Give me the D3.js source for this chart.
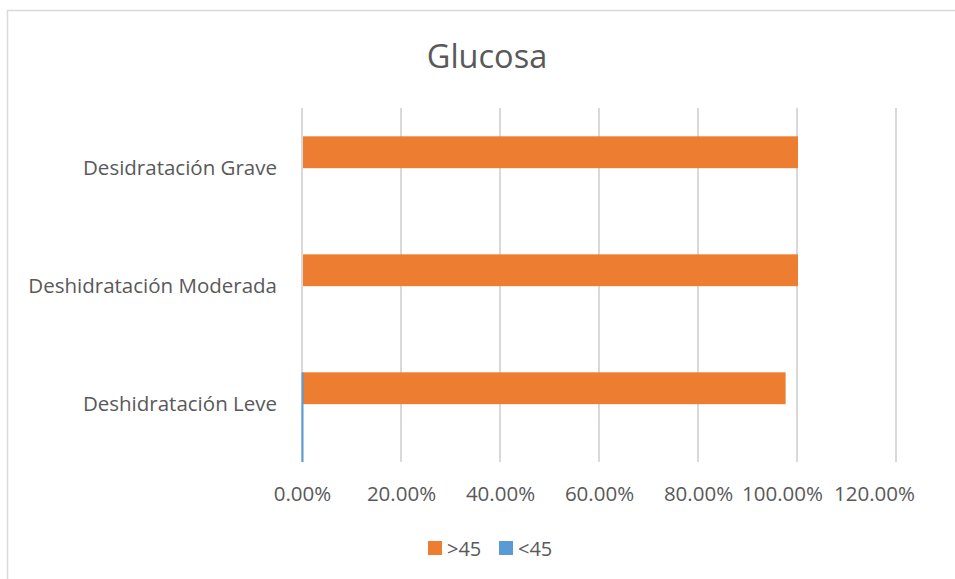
<!DOCTYPE html>
<html>
<head>
<meta charset="utf-8">
<script src="https://cdn.jsdelivr.net/npm/d3@7"></script>
<style>
  html, body { margin: 0; padding: 0; background: #fff; }
  svg { display: block; }
  text { font-family: "Open Sans", "Liberation Sans", sans-serif; fill: #595959; }
</style>
</head>
<body>
<svg id="chart" width="955" height="579"></svg>
<script>
const categories = ["Desidratación Grave", "Deshidratación Moderada", "Deshidratación Leve"];
const seriesNames = [">45", "<45"];
const over45 = [1.0, 1.0, 0.975];
const under45 = [0, 0, 0.004];
const tickValues = [0, 0.2, 0.4, 0.6, 0.8, 1.0, 1.2];
const colors = ["#ED7D31", "#5B9BD5"];

const svg = d3.select("#chart");

// chart border
svg.append("rect")
  .attr("x", 7.5).attr("y", 10.5)
  .attr("width", 1000).attr("height", 1000)
  .attr("fill", "#fff").attr("stroke", "#D9D9D9").attr("stroke-width", 1.5);

const x = d3.scaleLinear().domain([0, 1.2]).range([302, 896]);
const y = d3.scaleBand().domain(categories).range([108, 462]);

// title
svg.append("text")
  .attr("x", 487).attr("y", 68)
  .attr("text-anchor", "middle")
  .attr("font-size", 32.5)
  .text("Glucosa");

// gridlines
svg.append("g").selectAll("line").data(tickValues).join("line")
  .attr("x1", d => x(d)).attr("x2", d => x(d))
  .attr("y1", 108).attr("y2", 462)
  .attr("stroke", "#D9D9D9").attr("stroke-width", 2);

// x axis labels (last labels squeezed left as in the original)
const labelShift = d => d >= 1.2 ? -22 : (d >= 1.0 ? -15 : 0);
const xAxis = d3.axisBottom(x).tickValues(tickValues)
  .tickFormat(d => (d * 100).toFixed(2) + "%").tickSize(0).tickPadding(0);
const gx = svg.append("g").attr("transform", "translate(0,486)").call(xAxis);
gx.select(".domain").remove();
gx.selectAll("text").attr("font-size", 20.5).attr("fill", "#595959")
  .attr("font-family", "\"Open Sans\", sans-serif")
  .attr("dx", d => labelShift(d));

// y axis labels
const yAxis = d3.axisLeft(y).tickSize(0).tickPadding(0);
const gy = svg.append("g").attr("transform", "translate(277,1)").call(yAxis);
gy.select(".domain").remove();
gy.selectAll("text").attr("font-size", 20.5).attr("fill", "#595959")
  .attr("font-family", "\"Open Sans\", sans-serif");

const bw = y.bandwidth();
// >45 bars
svg.append("g").selectAll("rect").data(categories).join("rect")
  .attr("x", x(0) + 1)
  .attr("y", d => y(d) + bw * 0.24)
  .attr("width", (d, i) => x(over45[i]) - x(0))
  .attr("height", bw * 0.27)
  .attr("fill", colors[0]);

// <45 bars
svg.append("g").selectAll("rect").data(categories).join("rect")
  .attr("x", x(0) - 0.5)
  .attr("y", d => y(d) + bw * 0.24)
  .attr("width", (d, i) => under45[i] > 0 ? Math.max(2, x(under45[i]) - x(0)) : 0)
  .attr("height", bw * 0.76)
  .attr("fill", colors[1]);

// legend
const legend = svg.append("g").attr("transform", "translate(428,541)");
const items = legend.selectAll("g").data(seriesNames).join("g")
  .attr("transform", (d, i) => `translate(${i * 71},0)`);
items.append("rect").attr("width", 14).attr("height", 14)
  .attr("fill", (d, i) => colors[i]);
items.append("text").attr("x", 19).attr("y", 14.5)
  .attr("font-size", 20).text(d => d);
</script>
</body>
</html>
